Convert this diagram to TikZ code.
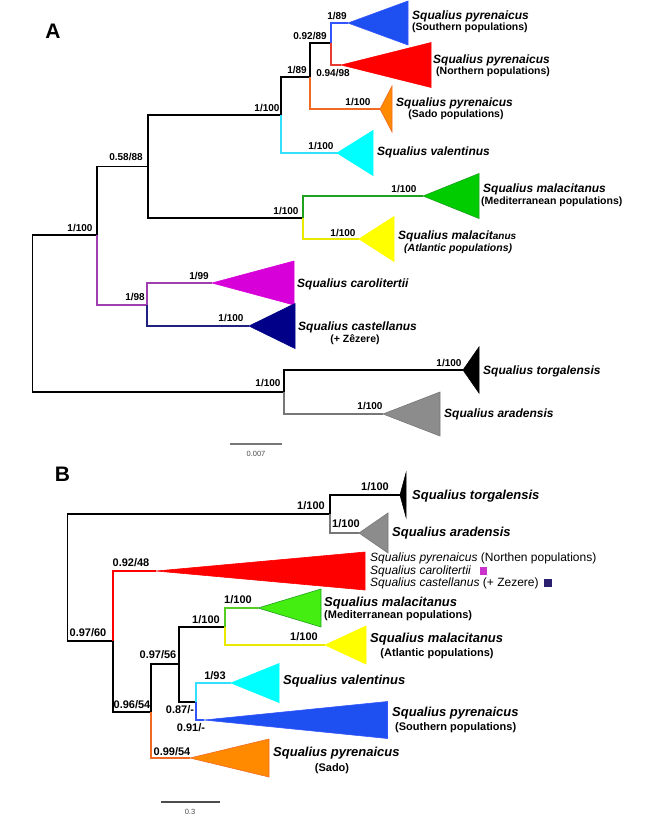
\documentclass[tikz,border=0pt]{standalone}
\usepackage{fontspec}
\setmainfont{Liberation Sans}
\usetikzlibrary{positioning}
\definecolor{sqblue}{HTML}{1E4FF0}
\definecolor{sqbluel}{HTML}{3355FF}
\definecolor{sqred}{HTML}{FF0000}
\definecolor{sqredl}{HTML}{E83A30}
\definecolor{sqorange}{HTML}{FF8A00}
\definecolor{sqorangel}{HTML}{F06A24}
\definecolor{sqcyan}{HTML}{00FFFF}
\definecolor{sqcyanl}{HTML}{33E0FF}
\definecolor{sqgreen}{HTML}{00CC00}
\definecolor{sqgreenl}{HTML}{1FA01F}
\definecolor{sqlime}{HTML}{44EE11}
\definecolor{sqlimel}{HTML}{55CC22}
\definecolor{sqyellow}{HTML}{FFFF00}
\definecolor{sqyellowl}{HTML}{EAEA00}
\definecolor{sqmag}{HTML}{D800D8}
\definecolor{sqpurple}{HTML}{A040B0}
\definecolor{sqnavy}{HTML}{000088}
\definecolor{sqnavyl}{HTML}{202080}
\definecolor{sqgrey}{HTML}{8C8C8C}
\definecolor{sqgreyl}{HTML}{777777}
\definecolor{sqbox1}{HTML}{CC33CC}
\definecolor{sqbox2}{HTML}{2A1F6E}

\begin{document}
\begin{tikzpicture}[
  x=1pt, y=-1pt,
  br/.style={line width=1.25pt},
  clade/.style={line width=0.6pt, line join=miter},
  sup/.style={inner sep=0pt, font=\fontsize{10}{12}\selectfont\bfseries},
  supb/.style={inner sep=0pt, font=\fontsize{11}{13}\selectfont\bfseries},
  spa/.style={anchor=west, inner sep=0pt, font=\fontsize{12}{14}\selectfont\bfseries\itshape},
  suba/.style={anchor=west, inner sep=0pt, font=\fontsize{10.5}{12}\selectfont\bfseries},
  spb/.style={anchor=west, inner sep=0pt, font=\fontsize{13}{15}\selectfont\bfseries\itshape},
  subb/.style={anchor=west, inner sep=0pt, font=\fontsize{11}{13}\selectfont\bfseries},
  lst/.style={anchor=west, inner sep=0pt, font=\fontsize{12}{14}\selectfont},
  sqbox/.style={inner sep=0pt, minimum size=7.5pt},
  panel/.style={font=\fontsize{21}{24}\selectfont\bfseries},
  scl/.style={inner sep=0pt, font=\fontsize{7.5}{9}\selectfont, text=black!70}
]
\useasboundingbox (0,0) rectangle (650,816);

% ---------- panel A ----------
\node[panel] (pa) at (53,31) {A};

\coordinate (ar) at (32.5,313.5);
\coordinate (a1) at (97,235);
\coordinate (a2) at (148,166.5);
\coordinate (a3) at (281,115);
\coordinate (a4) at (310,77);
\coordinate (a5) at (331,43);
\coordinate (a6) at (303,218);
\coordinate (a7) at (147,305);
\coordinate (a8) at (284,392);

\coordinate (tsouth) at (348,23);
\coordinate (tnorth) at (341,65);
\coordinate (tsado) at (380,109);
\coordinate (tval) at (337,153);
\coordinate (tmed) at (423,196);
\coordinate (tatl) at (359,239);
\coordinate (tcar) at (212,283);
\coordinate (tcas) at (249,326);
\coordinate (ttor) at (463,370);
\coordinate (tara) at (383,414);

\draw[br] (ar) |- (a1);
\draw[br] (ar) |- (a8);
\draw[br] (a1) |- (a2);
\draw[br, sqpurple] (a1) |- (a7);
\draw[br] (a2) |- (a3);
\draw[br] (a2) |- (a6);
\draw[br] (a3) |- (a4);
\draw[br, sqcyanl] (a3) |- (tval);
\draw[br] (a4) |- (a5);
\draw[br, sqorangel] (a4) |- (tsado);
\draw[br, sqbluel] (a5) |- (tsouth);
\draw[br, sqredl] (a5) |- (tnorth);
\draw[br, sqgreenl] (a6) |- (tmed);
\draw[br, sqyellowl] (a6) |- (tatl);
\draw[br, sqpurple] (a7) |- (tcar);
\draw[br, sqnavyl] (a7) |- (tcas);
\draw[br] (a8) |- (ttor);
\draw[br, sqgreyl] (a8) |- (tara);

\draw[clade, draw=sqbluel, fill=sqblue] (tsouth) -- ++(60,-22) -- ++(0,44) -- cycle;
\draw[clade, draw=sqred, fill=sqred] (tnorth) -- ++(90,-22.5) -- ++(0,45) -- cycle;
\draw[clade, draw=sqorangel, fill=sqorange] (tsado) -- ++(12,-23) -- ++(0,46) -- cycle;
\draw[clade, draw=sqcyan, fill=sqcyan] (tval) -- ++(36,-22.5) -- ++(0,45) -- cycle;
\draw[clade, draw=sqgreenl, fill=sqgreen] (tmed) -- ++(56,-22.5) -- ++(0,45) -- cycle;
\draw[clade, draw=sqyellow, fill=sqyellow] (tatl) -- ++(35,-22.5) -- ++(0,45) -- cycle;
\draw[clade, draw=sqmag, fill=sqmag] (tcar) -- ++(82,-22) -- ++(0,44) -- cycle;
\draw[clade, draw=sqnavy, fill=sqnavy] (tcas) -- ++(46,-22.5) -- ++(0,45) -- cycle;
\draw[clade, draw=black, fill=black] (ttor) -- ++(16,-23) -- ++(0,46) -- cycle;
\draw[clade, draw=sqgreyl, fill=sqgrey] (tara) -- ++(57,-22) -- ++(0,44) -- cycle;

\node[sup] (sa1) at (337,16) {1/89};
\node[sup] (sa2) at (310,36) {0.92/89};
\node[sup] (sa3) at (333,73) {0.94/98};
\node[sup] (sa4) at (297,70) {1/89};
\node[sup] (sa5) at (358,102) {1/100};
\node[sup] (sa6) at (267,108) {1/100};
\node[sup] (sa7) at (321,146) {1/100};
\node[sup] (sa8) at (126,157) {0.58/88};
\node[sup] (sa9) at (404,189) {1/100};
\node[sup] (sa10) at (286,211) {1/100};
\node[sup] (sa11) at (343,233) {1/100};
\node[sup] (sa12) at (80,228) {1/100};
\node[sup] (sa13) at (135,297) {1/98};
\node[sup] (sa14) at (199,276) {1/99};
\node[sup] (sa15) at (231,318) {1/100};
\node[sup] (sa16) at (449,363) {1/100};
\node[sup] (sa17) at (268,383) {1/100};
\node[sup] (sa18) at (370,406) {1/100};

\node[spa] (lsouth) at (412,16) {Squalius pyrenaicus};
\node[suba] (lsouth2) at (412,28) {(Southern populations)};
\node[spa] (lnorth) at (433,60) {Squalius pyrenaicus};
\node[suba] (lnorth2) at (436,72) {(Northern populations)};
\node[spa] (lsado) at (396,103) {Squalius pyrenaicus};
\node[suba, anchor=center] (lsado2) at (456,115) {(Sado populations)};
\node[spa] (lval) at (377,152) {Squalius valentinus};
\node[spa] (lmed) at (483,189) {Squalius malacitanus};
\node[suba] (lmed2) at (481,202) {(Mediterranean populations)};
\node[spa] (latl) at (398,236) {Squalius malacit{\fontsize{10}{12}\selectfont anus}};
\node[suba, font=\fontsize{10.5}{12}\selectfont\bfseries\itshape] (latl2) at (404,249) {(Atlantic populations)};
\node[spa] (lcar) at (297,284) {Squalius carolitertii};
\node[spa] (lcas) at (298,327) {Squalius castellanus};
\node[suba, anchor=center] (lcas2) at (355,340) {(+ Zêzere)};
\node[spa] (ltor) at (483,371) {Squalius torgalensis};
\node[spa] (lara) at (444,414) {Squalius aradensis};

\coordinate (scA1) at (230,444);
\coordinate (scA2) at (282,444);
\draw[line width=1.3pt, sqgreyl] (scA1) -- (scA2);
\node[scl] (scAl) at (256,454) {0.007};

% ---------- panel B ----------
\node[panel] (pb) at (62.5,474) {B};

\coordinate (br) at (67.5,577.5);
\coordinate (b1) at (330,514);
\coordinate (b2) at (113,641);
\coordinate (b3) at (151,712);
\coordinate (b4) at (179,664);
\coordinate (b5) at (225,627);
\coordinate (b6) at (196,702);

\coordinate (utor) at (400,495);
\coordinate (uara) at (359,533);
\coordinate (unor) at (156,571);
\coordinate (umed) at (258,608);
\coordinate (uatl) at (325,645);
\coordinate (uval) at (231,683);
\coordinate (usou) at (204,720);
\coordinate (usad) at (190,758);

\draw[br] (br) |- (b1);
\draw[br] (br) |- (b2);
\draw[br] (b1) |- (utor);
\draw[br, sqgreyl] (b1) |- (uara);
\draw[br, sqred] (b2) |- (unor);
\draw[br] (b2) |- (b3);
\draw[br] (b3) |- (b4);
\draw[br, sqorangel] (b3) |- (usad);
\draw[br] (b4) |- (b5);
\draw[br] (b4) |- (b6);
\draw[br, sqlimel] (b5) |- (umed);
\draw[br, sqyellowl] (b5) |- (uatl);
\draw[br, sqcyanl] (b6) |- (uval);
\draw[br, sqbluel] (b6) |- (usou);

\draw[clade, draw=black, fill=black] (utor) -- ++(6,-22) -- ++(0,44) -- cycle;
\draw[clade, draw=sqgreyl, fill=sqgrey] (uara) -- ++(29,-20) -- ++(0,40) -- cycle;
\draw[clade, draw=sqred, fill=sqred] (unor) -- ++(209,-19) -- ++(0,38) -- cycle;
\draw[clade, draw=sqgreenl, fill=sqlime] (umed) -- ++(63,-19) -- ++(0,38) -- cycle;
\draw[clade, draw=sqyellow, fill=sqyellow] (uatl) -- ++(41,-19) -- ++(0,38) -- cycle;
\draw[clade, draw=sqcyan, fill=sqcyan] (uval) -- ++(48,-19.5) -- ++(0,39) -- cycle;
\draw[clade, draw=sqbluel, fill=sqblue] (usou) -- ++(183.5,-18.5) -- ++(0,37) -- cycle;
\draw[clade, draw=sqorangel, fill=sqorange] (usad) -- ++(79,-19) -- ++(0,38) -- cycle;

\node[supb] (sb1) at (375,487) {1/100};
\node[supb] (sb2) at (311,506) {1/100};
\node[supb] (sb3) at (346,524) {1/100};
\node[supb] (sb4) at (131,563) {0.92/48};
\node[supb] (sb5) at (88,633) {0.97/60};
\node[supb] (sb6) at (238,600) {1/100};
\node[supb] (sb7) at (206,620) {1/100};
\node[supb] (sb8) at (304,637) {1/100};
\node[supb] (sb9) at (158,655) {0.97/56};
\node[supb] (sb10) at (215,676) {1/93};
\node[supb] (sb11) at (132,705) {0.96/54};
\node[supb] (sb12) at (180,710) {0.87/-};
\node[supb] (sb13) at (191,728) {0.91/-};
\node[supb] (sb14) at (172,752) {0.99/54};

\node[spb] (mtor) at (412,496) {Squalius torgalensis};
\node[spb] (mara) at (392,533) {Squalius aradensis};
\node[lst] (mnor) at (370,558) {\textit{Squalius pyrenaicus} (Northen populations)};
\node[lst] (mcar) at (370,571) {\textit{Squalius carolitertii}};
\node[sqbox, fill=sqbox1, right=8pt of mcar] (qcar) {};
\node[lst] (mcas) at (370,583) {\textit{Squalius castellanus} (+ Zezere)};
\node[sqbox, fill=sqbox2, right=5pt of mcas] (qcas) {};
\node[spb] (mmed) at (324,603) {Squalius malacitanus};
\node[subb] (mmed2) at (324,616) {(Mediterranean populations)};
\node[spb] (matl) at (370,639) {Squalius malacitanus};
\node[subb, anchor=center] (matl2) at (437,654) {(Atlantic populations)};
\node[spb] (mval) at (283,681) {Squalius valentinus};
\node[spb] (msou) at (392,713) {Squalius pyrenaicus};
\node[subb] (msou2) at (395,728) {(Southern populations)};
\node[spb] (msad) at (273,753) {Squalius pyrenaicus};
\node[subb, anchor=center] (msad2) at (332,769) {(Sado)};

\coordinate (scB1) at (161,802);
\coordinate (scB2) at (220,802);
\draw[line width=1.1pt, black!70] (scB1) -- (scB2);
\node[scl] (scBl) at (190,812) {0.3};

\end{tikzpicture}
\end{document}
